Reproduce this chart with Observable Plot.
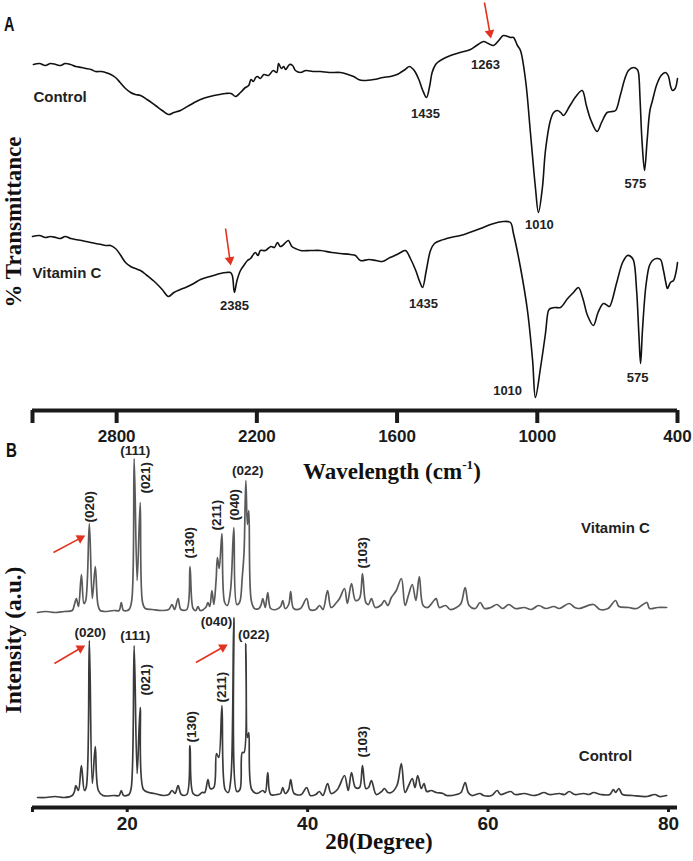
<!DOCTYPE html>
<html><head><meta charset="utf-8">
<script src="https://cdn.jsdelivr.net/npm/d3@7"></script>
<script src="https://cdn.jsdelivr.net/npm/@observablehq/plot@0.6"></script>
<style>
body{margin:0;background:#fff;}
#fig{position:relative;width:693px;height:861px;overflow:hidden;font-family:"Liberation Sans",Arial,sans-serif;background:#fff;}
#fig svg{position:absolute;left:0;}
.t{position:absolute;white-space:nowrap;line-height:1;}
.serif{font-family:"Liberation Serif","Times New Roman",serif;font-weight:bold;color:#111;}
.rot{transform:translate(-50%,-50%) rotate(-90deg);}
.ctr{transform:translate(-50%,-50%);}
.panel{font-weight:bold;color:#111;transform:scaleX(0.72);transform-origin:left top;}
sup{font-size:58%;vertical-align:0.75em;}
</style></head><body><div id="fig"></div>
<script>
// ---------- Panel A : FTIR (wavenumber, transmittance a.u.) ----------
const ftirControl = [
[3156,366],[3130,367],[3105,365],[3083,367],[3060,366],[3040,365],[3020,367],[2997,366],[2975,364],[2950,363],[2930,362],[2910,361],[2890,359],[2865,359],[2848,358],[2825,356],[2805,353],[2785,348],[2762,342],[2740,338],[2720,336],[2698,335],[2670,331],[2634,325],[2605,320],[2578,316],[2555,318],[2527,320],[2490,325],[2441,331],[2400,334],[2360,336],[2334,337],[2310,337],[2291,334],[2270,338],[2249,343],[2235,345],[2225,351],[2215,349],[2205,353],[2197,354],[2185,352],[2170,356],[2150,355],[2130,360],[2115,358],[2107,367],[2095,362],[2085,364],[2077,361],[2060,366],[2047,365],[2035,360],[2013,358],[1990,360],[1960,359],[1928,359],[1890,358],[1842,358],[1810,356],[1786,354],[1765,351],[1744,350],[1700,351],[1660,353],[1628,354],[1600,356],[1585,358],[1565,361],[1547,364],[1530,361],[1521,358],[1505,350],[1490,340],[1474,333],[1460,345],[1450,358],[1435,366],[1427,368],[1400,372],[1371,375],[1330,378],[1286,381],[1260,385],[1230,389],[1210,387],[1187,385],[1165,390],[1145,395],[1115,393],[1102,393],[1085,385],[1072,380],[1050,350],[1029,297],[1008,243],[995,218],[978,243],[965,280],[944,310],[930,318],[914,320],[900,318],[888,315],[860,325],[835,334],[808,340],[790,325],[770,310],[744,299],[725,308],[701,318],[680,319],[665,320],[645,335],[625,352],[610,360],[588,363],[572,361],[567,358],[560,330],[552,290],[541,260],[530,290],[518,320],[507,330],[490,345],[470,355],[451,358],[440,355],[428,343],[421,340],[410,342],[400,352]
];
const ftirVitC = [
[3160,194],[3130,195],[3105,193],[3083,194],[3060,193],[3040,192],[3020,194],[2997,192],[2975,191],[2950,190],[2930,189],[2910,188],[2890,187],[2865,186],[2848,185],[2826,185],[2805,182],[2785,176],[2762,168],[2740,164],[2720,162],[2698,160],[2670,155],[2634,148],[2605,141],[2578,134],[2555,138],[2527,141],[2505,143],[2470,147],[2441,151],[2400,154],[2356,157],[2330,158],[2313,158],[2305,155],[2296,138],[2285,150],[2270,160],[2250,167],[2240,170],[2227,172],[2215,176],[2206,178],[2195,175],[2185,180],[2163,180],[2140,184],[2125,183],[2112,188],[2100,184],[2090,185],[2077,188],[2065,190],[2050,184],[2035,182],[2013,180],[1970,180],[1928,180],[1880,178],[1842,177],[1800,176],[1778,175],[1757,170],[1720,171],[1690,170],[1662,169],[1630,173],[1600,176],[1585,178],[1564,180],[1543,172],[1520,160],[1505,150],[1491,143],[1475,160],[1457,180],[1440,187],[1414,190],[1370,193],[1329,195],[1290,198],[1243,202],[1200,206],[1145,209],[1115,208],[1102,197],[1072,163],[1042,120],[1020,70],[1008,33],[986,63],[965,97],[952,120],[944,122],[925,123],[901,123],[870,132],[845,138],[824,143],[805,132],[785,115],[760,105],[740,118],[717,127],[700,125],[691,124],[660,148],[635,168],[614,175],[600,174],[588,170],[575,140],[565,95],[558,67],[550,100],[535,145],[520,165],[507,170],[490,172],[473,171],[460,160],[450,148],[443,142],[430,148],[417,150],[405,160],[400,168]
];
const ftirTicks = [3160, 2800, 2200, 1600, 1000, 400];
const ftirDomainX = [3160, 400];
const ftirDomainY = [20, 430];
const ftirSeriesNames = ["Control", "Vitamin C"];
const ftirSeriesLabelAt = [[3156, 333], [3160, 157]];
const ftirPeakText = ["1435", "1263", "1010", "575", "2385", "1435", "1010", "575"];
const ftirPeakAt = [[1478,317],[1222,366],[991,206],[580,247],[2296,125],[1487,127],[1127,40],[571,53]];
const ftirArrows = [[1226,428,1200,394],[2334,202,2313,167]];

// ---------- Panel B : XRD (2theta, intensity a.u.) ----------
const xrdVitC = [
[10.06,0],[11,1],[12,0],[13,1],[13.9,2],[14.15,8],[14.36,14],[14.6,6],[14.92,38],[15.2,9],[15.4,12],[15.80,89],[16.13,14],[16.46,46],[16.75,8],[17.0,2],[17.5,1],[18.5,2],[19.1,2],[19.34,10],[19.6,2],[20.2,3],[20.5,12],[20.77,154],[21.1,32],[21.44,110],[21.7,10],[22.0,4],[22.8,3],[23.8,2],[24.6,3],[24.97,8],[25.25,3],[25.64,14],[25.95,3],[26.6,3],[26.96,46],[27.3,4],[27.6,2],[27.85,6],[28.1,2],[28.7,5],[28.95,10],[29.15,6],[29.39,22],[29.6,8],[29.85,32],[30.0,55],[30.2,44],[30.50,79],[30.8,10],[31.1,7],[31.45,22],[31.82,85],[32.15,8],[32.45,10],[32.75,35],[32.95,60],[33.15,132],[33.32,88],[33.48,102],[33.75,12],[34.1,4],[34.6,4],[34.85,8],[35.03,14],[35.3,5],[35.58,20],[35.9,4],[36.5,3],[37.0,6],[37.24,12],[37.5,4],[37.9,8],[38.12,21],[38.45,4],[39.2,4],[39.89,14],[40.25,3],[40.9,3],[41.33,7],[41.7,3],[42.21,22],[42.6,5],[43.2,10],[43.54,14],[44.09,24],[44.4,9],[44.86,29],[45.3,12],[45.75,14],[46.08,39],[46.45,10],[46.75,8],[47.07,14],[47.5,5],[48.2,8],[48.51,12],[48.9,7],[49.28,15],[49.83,22],[50.39,34],[50.8,7],[51.2,18],[51.6,28],[52.0,12],[52.38,36],[52.8,7],[53.3,5],[54.0,12],[54.25,14],[54.6,5],[55.3,7],[55.8,3],[56.5,5],[57.0,9],[57.46,25],[57.9,7],[58.6,4],[59.12,10],[59.6,4],[60.3,5],[61.0,8],[61.6,4],[62.3,8],[63.0,4],[64.0,5],[64.8,3],[65.6,7],[66.4,4],[67.3,6],[67.9,4],[69.0,9],[69.6,5],[70.1,4],[71.7,8],[72.4,3],[73.3,4],[74.14,12],[74.5,6],[75.6,5],[76.5,4],[77.6,10],[77.9,4],[78.8,5],[79.8,5]
];
const xrdControl = [
[10.06,0],[11,0],[12,1],[13,0],[13.9,2],[14.15,6],[14.3,12],[14.59,7],[14.92,32],[15.25,7],[15.45,10],[15.80,157],[16.13,14],[16.46,51],[16.8,7],[17.3,2],[18.5,2],[19.1,2],[19.34,7],[19.6,2],[20.2,3],[20.45,10],[20.77,152],[21.10,24],[21.44,90],[21.8,8],[22.4,5],[23.0,4],[24.0,2],[24.6,3],[24.97,7],[25.3,4],[25.64,12],[26.0,3],[26.6,3],[26.96,52],[27.3,4],[27.85,2],[28.3,5],[28.6,5],[28.95,18],[29.2,9],[29.6,10],[29.9,44],[30.15,40],[30.50,92],[30.85,8],[31.2,5],[31.5,20],[31.82,180],[32.15,6],[32.5,8],[32.75,45],[32.95,45],[33.15,154],[33.33,60],[33.48,65],[33.8,8],[34.4,4],[35.03,7],[35.3,5],[35.58,25],[35.9,3],[36.6,3],[37.0,4],[37.24,10],[37.5,4],[37.9,8],[38.12,18],[38.5,4],[39.3,3],[39.89,10],[40.3,2],[40.9,3],[41.3,6],[41.7,2],[42.21,14],[42.6,4],[43.3,8],[43.54,12],[44.09,22],[44.5,7],[44.86,25],[45.3,10],[45.75,10],[46.08,32],[46.45,9],[46.75,10],[47.07,17],[47.6,3],[48.2,6],[48.51,9],[48.9,5],[49.28,5],[49.9,12],[50.39,34],[50.8,5],[51.2,12],[51.6,19],[51.9,10],[52.2,22],[52.6,9],[52.9,14],[53.2,6],[53.7,7],[54.25,5],[55.0,4],[55.4,2],[56.5,3],[57.0,5],[57.46,15],[57.8,5],[58.2,2],[59.1,4],[59.5,2],[60.4,2],[61.0,7],[61.4,3],[62.5,6],[63.0,3],[64.0,4],[65.0,2],[65.6,3],[66.2,5],[66.8,3],[67.9,4],[68.5,3],[69.0,6],[69.6,3],[70.6,4],[71.2,3],[71.7,5],[72.5,3],[73.5,3],[73.9,8],[74.14,5],[74.5,9],[74.9,3],[76.0,2],[77.6,1],[78.5,3],[79.0,1],[79.8,2]
];
const xrdTicks = [9.5, 20, 40, 60, 80];
const xrdDomainX = [9.5, 81];
const xrdDomainY = [0, 367];
const xrdSeriesNames = ["Vitamin C", "Control"];
const xrdStackOffset = [195, 10];
const xrdSeriesLabelAt = [[70.3, 279], [70.06, 51]];
// hkl labels: text, 2theta, stacked intensity, vertical?
const hklText = ["(020)","(021)","(130)","(211)","(040)","(103)","(111)","(022)",
                 "(021)","(130)","(211)","(103)","(020)","(111)","(040)","(022)"];
const hklAt = [[15.80,285],[22.10,314],[26.96,249],[29.94,277],[31.93,287],[46.08,239],[20.88,357],[33.37,337],
               [22.10,112],[27.18,65],[30.50,105],[46.08,50],[15.91,175],[20.88,172],[29.9,186],[34.03,173]];
const hklVertical = [true,true,true,true,true,true,false,false, true,true,true,true,false,false,false,false];
const xrdArrows = [[11.82,255,15.14,271],[11.93,144,15.14,161],[27.62,145,30.94,162]];

// ---------- build ----------
const fig = document.getElementById("fig");
const baseStyle = {fontFamily: "'Liberation Sans', Arial, sans-serif", fontWeight: "bold", background: "transparent", overflow: "visible", color: "#111"};
const red = "#e3321f";
const PLOT_W = 645; // inner width in px (693 - 32 - 16)

// arrow helpers: shaft (link) + filled triangular head oriented in screen space
function arrowParts(list, domX, domY, innerH) {
  const kx = PLOT_W / (domX[1] - domX[0]);
  const ky = -innerH / (domY[1] - domY[0]);
  return list.map(([a, b, c, d]) => {
    const sx = (c - a) * kx, sy = (d - b) * ky;
    const len = Math.hypot(sx, sy);
    const ux = sx / len, uy = sy / len;
    const back = 3.5; // px from tip to triangle centre
    return {
      a, b,
      c2: c - ux * 5 / kx, d2: d - uy * 5 / ky,
      hx: c - ux * back / kx, hy: d - uy * back / ky,
      ang: Math.atan2(ux, -uy) * 180 / Math.PI
    };
  });
}

const ftirRows = [
  ...ftirControl.map(([wn, t]) => ({wn, t, s: ftirSeriesNames[0]})),
  ...ftirVitC.map(([wn, t]) => ({wn, t, s: ftirSeriesNames[1]}))
];
const ftirSeriesLabels = ftirSeriesNames.map((n, i) => ({n, wn: ftirSeriesLabelAt[i][0], t: ftirSeriesLabelAt[i][1]}));
const ftirPeaks = ftirPeakText.map((txt, i) => ({txt, wn: ftirPeakAt[i][0], t: ftirPeakAt[i][1]}));
const ftirArr = arrowParts(ftirArrows, ftirDomainX, ftirDomainY, 410);

const plotA = Plot.plot({
  width: 693, height: 450,
  marginLeft: 32, marginRight: 16, marginTop: 0, marginBottom: 40,
  x: {domain: ftirDomainX, axis: null},
  y: {domain: ftirDomainY, axis: null},
  style: baseStyle,
  marks: [
    Plot.line(ftirRows, {x: "wn", y: "t", z: "s", stroke: "#111", strokeWidth: 1.6, strokeLinejoin: "round", curve: "catmull-rom"}),
    Plot.ruleY([ftirDomainY[0]], {stroke: "#1a1a1a", strokeWidth: 4}),
    Plot.axisX({ticks: ftirTicks, tickFormat: d => d === ftirDomainX[0] ? "" : String(d), tickSize: 13, tickPadding: 6, strokeWidth: 4, stroke: "#1a1a1a", fontSize: 17, fontWeight: "bold", fill: "#1a1a1a"}),
    Plot.text(ftirSeriesLabels, {x: "wn", y: "t", text: "n", textAnchor: "start", fontSize: 15, fontWeight: "bold", fill: "#222"}),
    Plot.text(ftirPeaks, {x: "wn", y: "t", text: "txt", fontSize: 13, fontWeight: "bold", fill: "#222"}),
    Plot.link(ftirArr, {x1: "a", y1: "b", x2: "c2", y2: "d2", stroke: red, strokeWidth: 1.6}),
    Plot.dot(ftirArr, {x: "hx", y: "hy", symbol: "triangle", r: 3.6, rotate: "ang", fill: red, stroke: "none"})
  ]
});
plotA.style.top = "0px";
fig.appendChild(plotA);

const xrdRows = [];
[xrdVitC, xrdControl].forEach((arr, i) => arr.forEach(([th, I]) => xrdRows.push({th, y: I + xrdStackOffset[i], s: xrdSeriesNames[i]})));
const xrdSeriesLabels = xrdSeriesNames.map((n, i) => ({n, th: xrdSeriesLabelAt[i][0], y: xrdSeriesLabelAt[i][1]}));
const hkl = hklText.map((txt, i) => ({txt, th: hklAt[i][0], y: hklAt[i][1], v: hklVertical[i]}));
const xrdArr = arrowParts(xrdArrows, xrdDomainX, xrdDomainY, 367);

const plotB = Plot.plot({
  width: 693, height: 421,
  marginLeft: 32, marginRight: 16, marginTop: 0, marginBottom: 54,
  x: {domain: xrdDomainX, axis: null},
  y: {domain: xrdDomainY, axis: null},
  color: {domain: xrdSeriesNames, range: ["#5a5a5a", "#3a3a3a"]},
  style: baseStyle,
  marks: [
    Plot.line(xrdRows, {x: "th", y: "y", z: "s", stroke: "s", strokeWidth: 1.7, strokeLinejoin: "round", curve: "catmull-rom"}),
    Plot.ruleY([xrdDomainY[0]], {stroke: "#1a1a1a", strokeWidth: 4}),
    Plot.axisX({ticks: xrdTicks, tickFormat: d => d === xrdDomainX[0] ? "" : String(d), tickSize: 5, tickPadding: 4, strokeWidth: 3, stroke: "#1a1a1a", fontSize: 19, fontWeight: "bold", fill: "#1a1a1a"}),
    Plot.text(xrdSeriesLabels, {x: "th", y: "y", text: "n", textAnchor: "start", fontSize: 15, fontWeight: "bold", fill: "#222"}),
    Plot.text(hkl.filter(d => d.v), {x: "th", y: "y", text: "txt", rotate: -90, textAnchor: "start", fontSize: 13.5, fontWeight: "bold", fill: "#222"}),
    Plot.text(hkl.filter(d => !d.v), {x: "th", y: "y", text: "txt", fontSize: 13.5, fontWeight: "bold", fill: "#222"}),
    Plot.link(xrdArr, {x1: "a", y1: "b", x2: "c2", y2: "d2", stroke: red, strokeWidth: 1.6}),
    Plot.dot(xrdArr, {x: "hx", y: "hy", symbol: "triangle", r: 3.6, rotate: "ang", fill: red, stroke: "none"})
  ]
});
plotB.style.top = "440px";
fig.appendChild(plotB);

// ---------- titles ----------
function addText(html, cls, css) {
  const d = document.createElement("div");
  d.className = "t " + cls;
  d.innerHTML = html;
  Object.assign(d.style, css);
  fig.appendChild(d);
}
addText("A", "panel", {left: "4px", top: "14px", fontSize: "20px"});
addText("B", "panel", {left: "6px", top: "439px", fontSize: "21px"});
addText("% Transmittance", "serif rot", {left: "13px", top: "222px", fontSize: "23px"});
addText("Intensity (a.u.)", "serif rot", {left: "14px", top: "640px", fontSize: "23.5px"});
addText("Wavelength (cm<sup>-1</sup>)", "serif ctr", {left: "392px", top: "470px", fontSize: "23px"});
addText("2θ(Degree)", "serif ctr", {left: "379px", top: "841px", fontSize: "23px"});
</script></body></html>
